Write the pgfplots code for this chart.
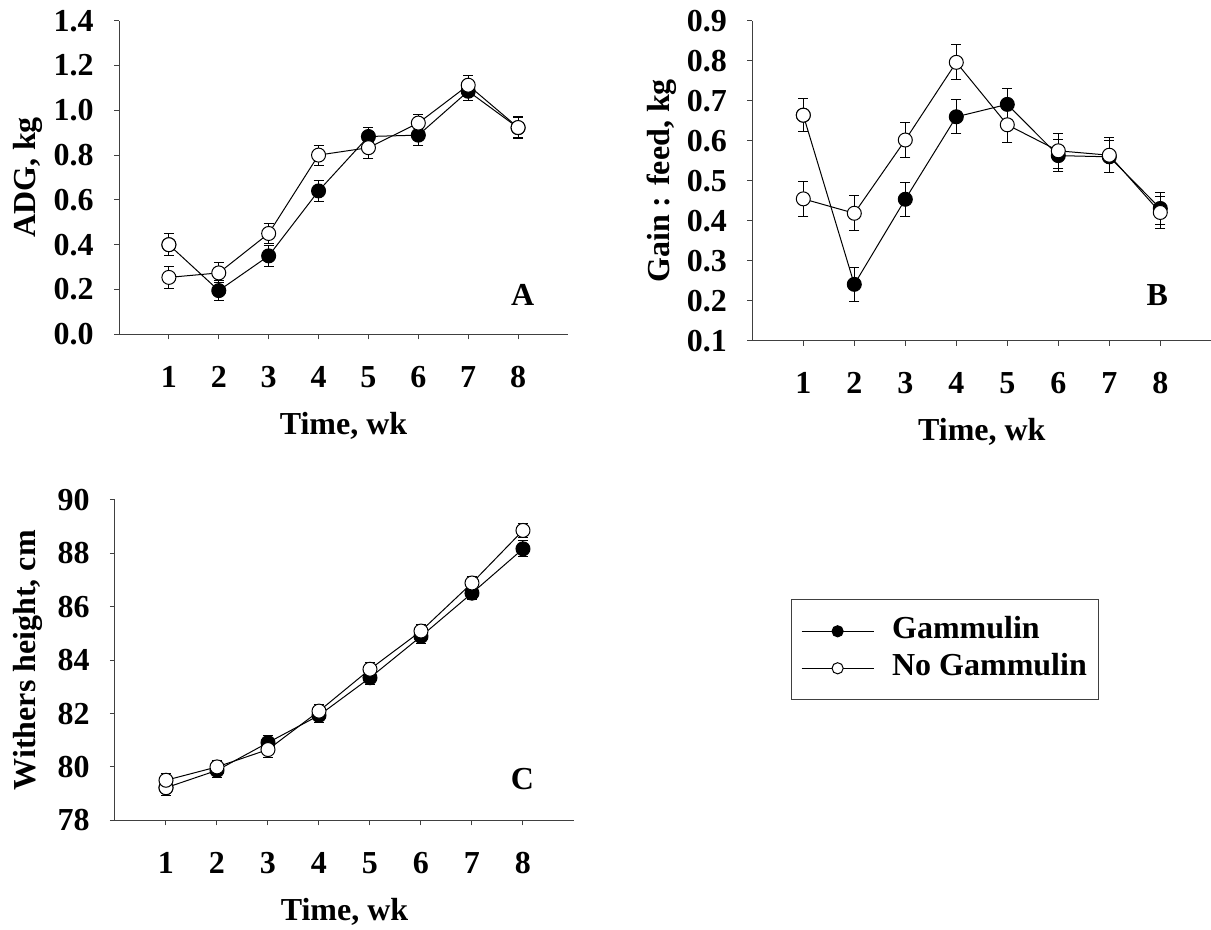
\documentclass[border=0pt]{standalone}
\usepackage{fontspec}
\setmainfont{Liberation Serif}
\usepackage{pgfplots}
\pgfplotsset{compat=1.18}
\newcommand\ff{\fontsize{16pt}{19pt}\selectfont\bfseries}

\pgfplotstableread{
x y e
1 0.400 0.048
2 0.195 0.045
3 0.350 0.048
4 0.640 0.048
5 0.883 0.042
6 0.889 0.045
7 1.085 0.040
8 0.922 0.045
}\AG
\pgfplotstableread{
x y e
1 0.254 0.048
2 0.274 0.045
3 0.450 0.045
4 0.800 0.045
5 0.833 0.048
6 0.943 0.040
7 1.112 0.045
8 0.923 0.048
}\AN
\pgfplotstableread{
x y e
1 0.664 0.042
2 0.2415 0.042
3 0.454 0.042
4 0.660 0.042
5 0.691 0.040
6 0.563 0.040
7 0.560 0.040
8 0.431 0.040
}\BG
\pgfplotstableread{
x y e
1 0.455 0.044
2 0.419 0.044
3 0.602 0.044
4 0.796 0.044
5 0.640 0.045
6 0.575 0.044
7 0.564 0.044
8 0.421 0.040
}\BN
\pgfplotstableread{
x y e
1 79.22 0.30
2 79.87 0.25
3 80.91 0.25
4 81.93 0.25
5 83.34 0.25
6 84.89 0.25
7 86.51 0.25
8 88.17 0.30
}\CG
\pgfplotstableread{
x y e
1 79.50 0.25
2 80.00 0.25
3 80.65 0.30
4 82.09 0.25
5 83.66 0.25
6 85.09 0.25
7 86.89 0.25
8 88.86 0.25
}\CN

\pgfplotsset{
  panel/.style={
    scale only axis, anchor=south west,
    xmin=0, xmax=9, xtick={1,2,3,4,5,6,7,8},
    axis x line*=bottom, axis y line*=left,
    axis line style={black!75, line width=0.5pt, -},
    tick style={black!75, line width=0.5pt},
    tick align=outside, major tick length=2.5pt,
    tick label style={font=\ff},
    /pgf/number format/assume math mode=true,
    label style={font=\ff},
    xlabel={Time, wk},
    xlabel style={at={(axis description cs:0.5,0)}, anchor=base, yshift=-50pt},
    xticklabel style={anchor=base, yshift=-24pt},
    yticklabel style={anchor=east, inner sep=0pt, xshift=-10pt},
    clip=false,
  },
  ebar/.style={
    error bars/y dir=both, error bars/y explicit,
    error bars/error bar style={line width=0.5pt, black},
    error bars/error mark options={rotate=90, mark size=2.5pt, line width=0.5pt, black}},
  gam/.style={ebar, color=black, line width=0.5pt, mark=*, mark size=3.5pt,
    mark options={solid, draw=black, fill=black}},
  nog/.style={ebar, color=black, line width=0.5pt, mark=*, mark size=3.5pt,
    mark options={solid, draw=black, fill=white}},
  first/.style={only marks, mark indices={1}, color=black, line width=0.5pt, mark=*, mark size=3.5pt,
    mark options={solid, draw=black, fill=white}},
}

\begin{document}
\begin{tikzpicture}[x=1pt,y=1pt]
\useasboundingbox (0,0) rectangle (605.5,465);

% Panel A
\begin{axis}[panel, at={(59.5pt,297.85pt)}, width=224.5pt, height=156.8pt,
  ymin=0, ymax=1.4, ytick={0,0.2,0.4,0.6,0.8,1.0,1.2,1.4},
  yticklabel style={/pgf/number format/.cd, fixed, fixed zerofill, precision=1},
  ylabel={ADG, kg},
  ylabel style={at={(axis description cs:-0.2027,0.5)}, anchor=center}]
\addplot[gam] table[x=x, y=y, y error=e] {\AG};
\addplot[first] table[x=x, y=y] {\AG};
\addplot[nog] table[x=x, y=y, y error=e] {\AN};
\node[font=\ff] at (axis cs:8.09,0.175) {A};
\end{axis}

% Panel B
\begin{axis}[panel, at={(376.15pt,294.5pt)}, width=229.5pt, height=160.15pt,
  ymin=0.1, ymax=0.9, ytick={0.1,0.2,0.3,0.4,0.5,0.6,0.7,0.8,0.9},
  yticklabel style={/pgf/number format/.cd, fixed, fixed zerofill, precision=1},
  ylabel={Gain : feed, kg},
  ylabel style={at={(axis description cs:-0.1983,0.5)}, anchor=center}]
\addplot[gam] table[x=x, y=y, y error=e] {\BG};
\addplot[first] table[x=x, y=y] {\BG};
\addplot[nog] table[x=x, y=y, y error=e] {\BN};
\node[font=\ff] at (axis cs:7.94,0.215) {B};
\end{axis}

% Panel C
\begin{axis}[panel, at={(57.5pt,54.85pt)}, width=229.5pt, height=160.15pt,
  ymin=78, ymax=90, ytick={78,80,82,84,86,88,90},
  ylabel={Withers height, cm},
  ylabel style={at={(axis description cs:-0.1895,0.5)}, anchor=center},
  legend style={at={(1.472,0.690)}, anchor=north west, draw=black!75, line width=0.5pt,
    inner xsep=5pt, inner ysep=7.5pt, row sep=2pt, column sep=0pt, font=\ff,
    nodes={inner sep=1pt, text height=11pt, text depth=3.5pt}},
  legend cell align=left,
  legend image code/.code={\draw[#1, mark size=2.8pt, mark repeat=2, mark phase=2]
    plot coordinates {(0pt,0pt) (18pt,0pt) (36pt,0pt)};}]
\addlegendimage{black, line width=0.5pt, mark=*, mark options={solid, draw=black, fill=black}}
\addlegendentry{\hspace{8pt}Gammulin}
\addlegendimage{black, line width=0.5pt, mark=*, mark options={solid, draw=black, fill=white}}
\addlegendentry{\hspace{8pt}No Gammulin}
\addplot[gam, forget plot] table[x=x, y=y, y error=e] {\CG};
\addplot[first, forget plot] table[x=x, y=y] {\CG};
\addplot[nog, forget plot] table[x=x, y=y, y error=e] {\CN};
\node[font=\ff] at (axis cs:7.99,79.54) {C};
\end{axis}
\end{tikzpicture}
\end{document}
